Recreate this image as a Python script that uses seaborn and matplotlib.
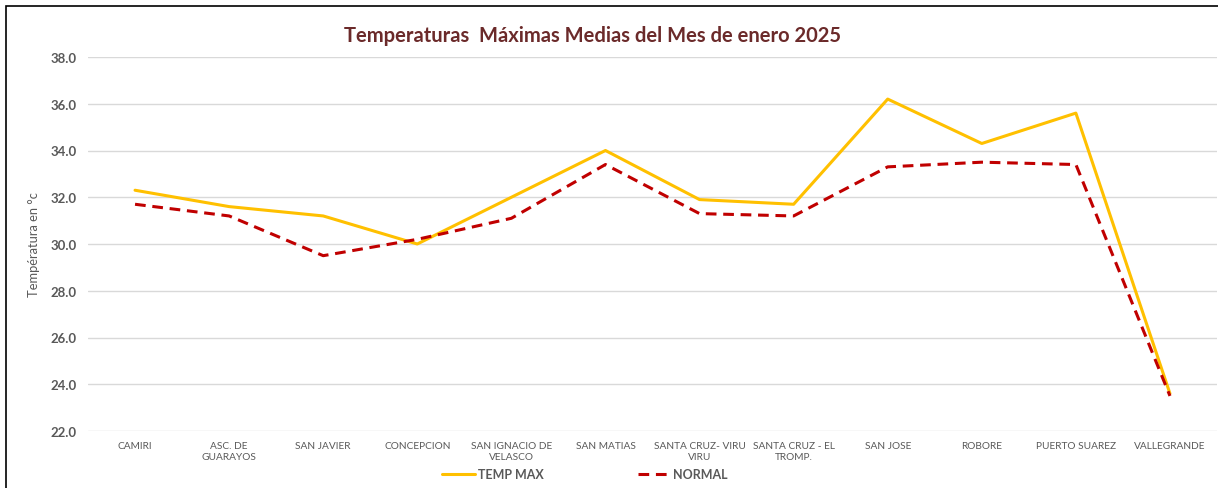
import matplotlib
matplotlib.use("Agg")
import matplotlib.pyplot as plt
import seaborn as sns
import pandas as pd
from matplotlib.patches import Rectangle
from matplotlib.lines import Line2D

categories = ["CAMIRI", "ASC. DE\nGUARAYOS", "SAN JAVIER", "CONCEPCION",
              "SAN IGNACIO DE\nVELASCO", "SAN MATIAS", "SANTA CRUZ- VIRU\nVIRU",
              "SANTA CRUZ - EL\nTROMP.", "SAN JOSE", "ROBORE", "PUERTO SUAREZ",
              "VALLEGRANDE"]
temp_max = [32.3, 31.6, 31.2, 30.0, 32.0, 34.0, 31.9, 31.7, 36.2, 34.3, 35.6, 23.6]
normal = [31.7, 31.2, 29.5, 30.2, 31.1, 33.4, 31.3, 31.2, 33.3, 33.5, 33.4, 23.5]
y_ticks = [22.0, 24.0, 26.0, 28.0, 30.0, 32.0, 34.0, 36.0, 38.0]

sns.set_theme(style="white")
plt.rcParams['font.family'] = ['Lato', 'DejaVu Sans']

df = pd.DataFrame({
    "pos": list(range(len(categories))) * 2,
    "value": temp_max + normal,
    "serie": ["TEMP MAX"] * len(categories) + ["NORMAL"] * len(categories),
})

fig = plt.figure(figsize=(12.18, 4.89), dpi=100)
ax = fig.add_axes([88 / 1218, 1 - 432 / 489, 1129 / 1218, (432 - 58) / 489])

sns.lineplot(data=df, x="pos", y="value", hue="serie", style="serie",
             palette={"TEMP MAX": "#FFC000", "NORMAL": "#C00000"},
             dashes={"TEMP MAX": "", "NORMAL": (3.5, 2.2)},
             linewidth=2.2, ax=ax, legend=False, sort=False)

ax.set_xlim(-0.5, len(categories) - 0.5)
ax.set_ylim(22, 38)
ax.set_yticks(y_ticks)
ax.set_yticklabels([f"{v:.1f}" for v in y_ticks], fontsize=9.5, fontweight="bold", color="#595959")
ax.set_xticks(range(len(categories)))
ax.set_xticklabels(categories, fontsize=7.3, color="#595959", linespacing=1.35)
ax.tick_params(axis="x", length=0, pad=7)
ax.tick_params(axis="y", length=0, pad=8)
ax.grid(axis="y", color="#D9D9D9", linewidth=1.0)
ax.set_axisbelow(True)
for s in ax.spines.values():
    s.set_visible(False)
ax.set_xlabel("")
ax.set_ylabel("Températura en °c", fontsize=9.3, color="#595959", labelpad=8)

fig.text(592 / 1218, 1 - 36 / 489, "Temperaturas  Máximas Medias del Mes de enero 2025",
         ha="center", va="center", fontsize=14.5, fontweight="bold", color="#6B2A2A")

handles = [Line2D([], [], color="#FFC000", linewidth=2.2),
           Line2D([], [], color="#C00000", linewidth=2.2, dashes=(3.5, 2.2))]
leg = fig.legend(handles, ["TEMP MAX", "NORMAL"], loc="center",
                 bbox_to_anchor=(585 / 1218, 1 - 475 / 489), ncol=2, frameon=False,
                 handlelength=2.6, handletextpad=0.25, columnspacing=7.5,
                 prop={"family": "Lato", "weight": "bold", "size": 9})
for t in leg.get_texts():
    t.set_color("#595959")

fig.patches.append(Rectangle((6 / 1218, -0.05), 1.1, 1 - 7 / 489 + 0.05,
                             transform=fig.transFigure, fill=False,
                             edgecolor="black", linewidth=1.2))

fig.savefig("out.png", dpi=100)
